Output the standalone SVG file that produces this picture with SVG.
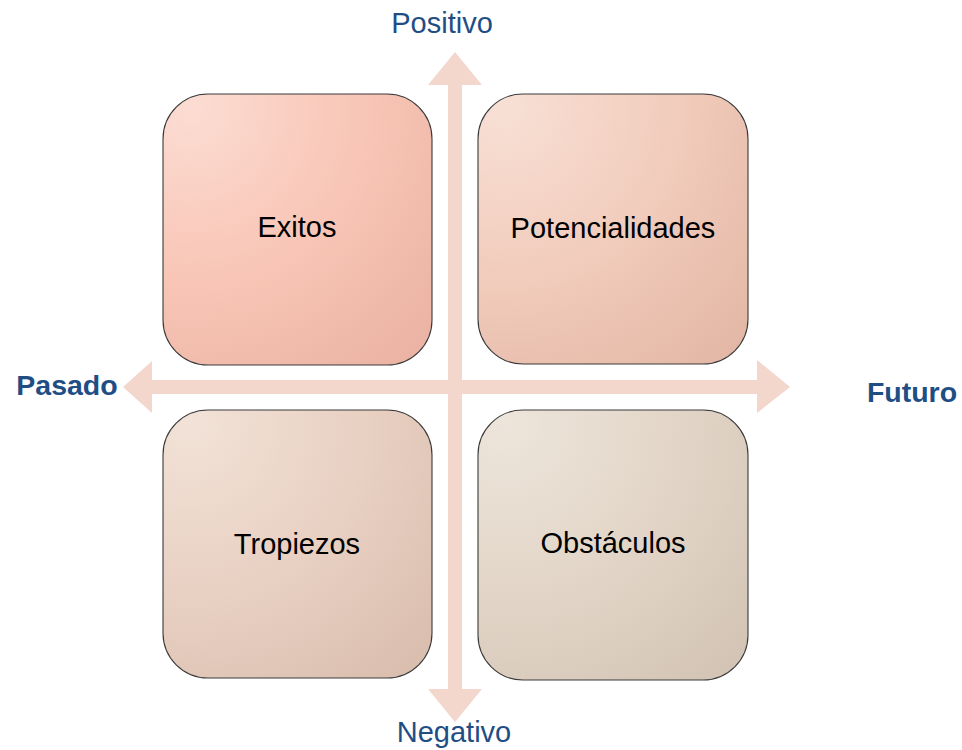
<svg xmlns="http://www.w3.org/2000/svg" width="962" height="750" viewBox="0 0 962 750">
<style>
.axis{fill:#f3d6cc;}
.box{stroke:#3a3a3a;stroke-width:1.1;}
.lbl{font-family:"Liberation Sans",Arial,sans-serif;font-size:29px;fill:#000;text-anchor:middle;}
.ax{font-family:"Liberation Sans",Arial,sans-serif;font-size:29px;fill:#1f4e85;text-anchor:middle;}
.axb{font-family:"Liberation Sans",Arial,sans-serif;font-size:28.5px;font-weight:bold;fill:#1f4e85;text-anchor:middle;}
</style>
<defs>
<radialGradient id="g1" cx="0.1" cy="0.05" r="1.3">
<stop offset="0" stop-color="#fcdcd2"/><stop offset="0.5" stop-color="#f8c5b6"/><stop offset="1" stop-color="#e9b1a1"/>
</radialGradient>
<radialGradient id="g2" cx="0.1" cy="0.05" r="1.3">
<stop offset="0" stop-color="#f8e0d5"/><stop offset="0.5" stop-color="#f1cbbb"/><stop offset="1" stop-color="#e2b5a3"/>
</radialGradient>
<radialGradient id="g3" cx="0.1" cy="0.05" r="1.3">
<stop offset="0" stop-color="#f2e2d7"/><stop offset="0.5" stop-color="#e8d0c2"/><stop offset="1" stop-color="#d8bcac"/>
</radialGradient>
<radialGradient id="g4" cx="0.1" cy="0.05" r="1.3">
<stop offset="0" stop-color="#ede5db"/><stop offset="0.5" stop-color="#e2d5c7"/><stop offset="1" stop-color="#d1c2b3"/>
</radialGradient>
</defs>
<g id="connectors">
<polygon class="axis" points="455,52 482,85 462,85 462,689 482,689 455,722 428,689 448,689 448,85 428,85"/>
<polygon class="axis" points="123,387 152,361 152,380 757,380 757,360 790,387 757,413 757,394 152,394 152,413"/>
</g>
<g id="exitos">
<rect class="box" x="163" y="94" width="269" height="271" rx="45" fill="url(#g1)"/>
<text class="lbl" x="297" y="237">Exitos</text>
</g>
<g id="potencialidades">
<rect class="box" x="478" y="94" width="270" height="270" rx="45" fill="url(#g2)"/>
<text class="lbl" x="613" y="238">Potencialidades</text>
</g>
<g id="tropiezos">
<rect class="box" x="163" y="410" width="269" height="268" rx="45" fill="url(#g3)"/>
<text class="lbl" x="297" y="554">Tropiezos</text>
</g>
<g id="obstaculos">
<rect class="box" x="478" y="410" width="270" height="270" rx="45" fill="url(#g4)"/>
<text class="lbl" x="613" y="553">Obstáculos</text>
</g>
<g id="labels">
<text class="ax" x="442" y="33">Positivo</text>
<text class="ax" x="454" y="742">Negativo</text>
<text class="axb" x="67" y="395">Pasado</text>
<text class="axb" x="912" y="402">Futuro</text>
</g>
</svg>
